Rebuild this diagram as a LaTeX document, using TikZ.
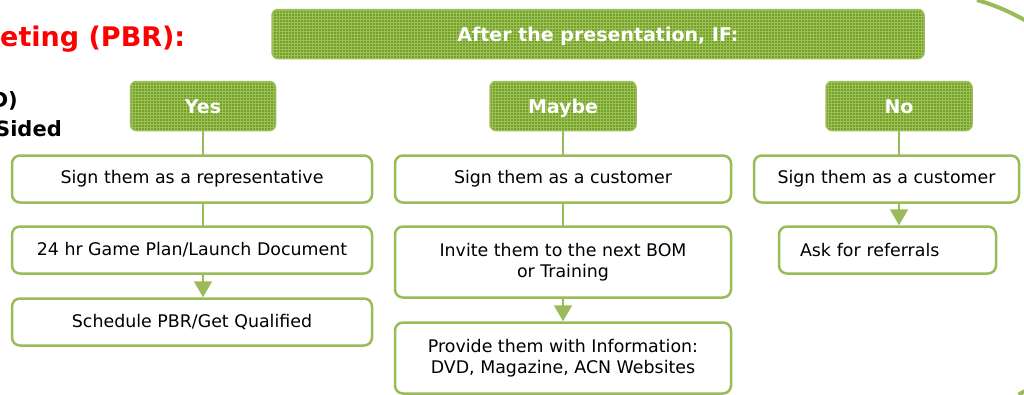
\documentclass[tikz,border=0pt]{standalone}
\usepackage{fontspec}
\setmainfont{DejaVu Sans}
\usepackage{xcolor}
\usepackage{tikz}
\usetikzlibrary{arrows.meta,patterns,backgrounds}
\definecolor{leaf}{HTML}{75A029}
\definecolor{rim}{HTML}{9BBB59}
\definecolor{weave}{HTML}{9CC257}

\tikzset{
  head/.style={draw=rim, line width=1.5pt, fill=leaf, rounded corners=6pt,
    text=white, font=\bfseries\fontsize{19}{22}\selectfont,
    text height=18pt, text depth=4pt,
    minimum height=49pt, postaction={pattern=grid, pattern color=weave}},
  stepbox/.style={draw=rim, line width=2.5pt, fill=white, rounded corners=8pt,
    font=\fontsize{17.4}{21}\selectfont, minimum height=47pt, align=center},
  link/.style={color=rim, line width=2pt, -{Triangle[width=18pt,length=16pt]}},
}

\begin{document}
\begin{tikzpicture}[x=1pt, y=-1pt]
    \useasboundingbox (0,0) rectangle (1024,394);

    % cut-off text on the left
    \node(title) at (0,39) [anchor=west, inner sep=0pt, text=red,
      font=\bfseries\fontsize{27}{30}\selectfont] {eting (PBR):};
    \node(dvd) at (18,101) [anchor=east, inner sep=0pt,
      font=\bfseries\fontsize{21}{24}\selectfont] {D)};
    \node(sided) at (62,129) [anchor=east, inner sep=0pt,
      font=\bfseries\fontsize{21}{24}\selectfont] {Sided};

    % headers
    \node(if) at (598,34) [head, minimum width=652pt] {After the presentation, IF:};
    \node(yes) at (203,106) [head, minimum width=145pt] {Yes};
    \node(maybe) at (563,106) [head, minimum width=146pt] {Maybe};
    \node(no) at (899,106) [head, minimum width=146pt] {No};

    % yes column
    \node(rep) at (192,179) [stepbox, minimum width=360pt] {Sign them as a representative};
    \node(plan) at (192,250) [stepbox, minimum width=360pt] {24 hr Game Plan/Launch Document};
    \node(sched) at (192,322) [stepbox, minimum width=360pt] {Schedule PBR/Get Qualified};

    % maybe column
    \node(cust) at (563,179) [stepbox, minimum width=336pt] {Sign them as a customer};
    \node(bom) at (563,262) [stepbox, minimum width=336pt, minimum height=71pt]
      {Invite them to the next BOM\\or Training};
    \node(info) at (563,358) [stepbox, minimum width=336pt, minimum height=71pt]
      {Provide them with Information:\\DVD, Magazine, ACN Websites};

    % no column
    \node(cust2) at (886.5,179) [stepbox, minimum width=265pt] {Sign them as a customer};
    \node(ask) at (887.5,250) [stepbox, text width=175pt, inner xsep=21pt, align=left]
      {Ask for referrals};

    \begin{scope}[on background layer]
      \draw[link] (yes) edge (yes |- sched.north)
                  (maybe) edge (maybe |- info.north)
                  (no) edge (no |- ask.north);
    \end{scope}

    % ring on the right
    \draw[rim, line width=4pt] (977,0) arc[start angle=74, end angle=-62, radius=214pt];
\end{tikzpicture}
\end{document}
